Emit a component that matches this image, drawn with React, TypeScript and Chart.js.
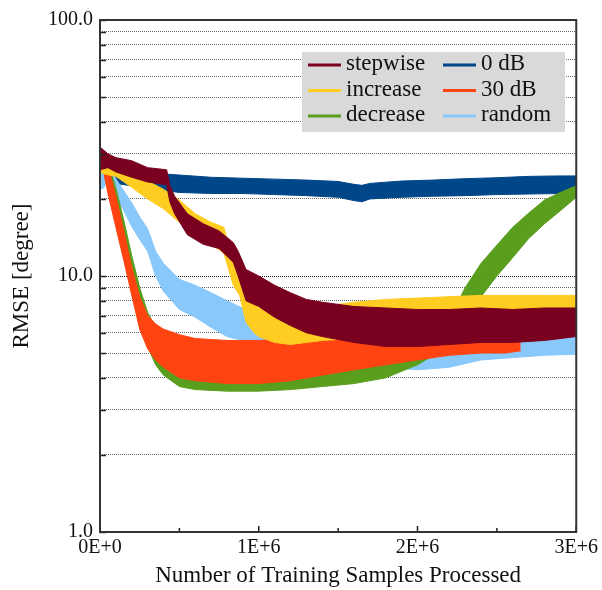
import React, { useEffect, useRef } from 'react';
import { Chart, registerables } from 'chart.js';

Chart.register(...registerables);

// x values are in millions of training samples
const X_TICKS = [0, 1, 2, 3];
const X_TICK_LABELS = ['0E+0', '1E+6', '2E+6', '3E+6'];
const X_MINOR_TICKS = [0.5, 1.5, 2.5];
const Y_TICKS = [1, 2, 3, 4, 5, 6, 7, 8, 9, 10, 20, 30, 40, 50, 60, 70, 80, 90, 100];
const Y_LABELED = [1, 10, 100];

const STEPWISE_X = [0, 0.05, 0.1, 0.2, 0.3, 0.42, 0.44, 0.47, 0.55, 0.65, 0.75, 0.84, 0.87, 0.92, 1.0, 1.1, 1.2, 1.3, 1.4, 1.6, 1.8, 2.0, 2.2, 2.4, 2.6, 2.8, 3.0];
const STEPWISE_HI = [31.9, 30, 29, 28.2, 26.5, 26, 22.5, 20.5, 17.5, 16, 15, 13.5, 12.5, 10.6, 10, 9.2, 8.6, 8.1, 7.9, 7.6, 7.5, 7.4, 7.4, 7.5, 7.4, 7.5, 7.5];
const STEPWISE_LO = [26, 26.5, 25.5, 24.3, 23.3, 22.7, 19.5, 17.5, 14.5, 13.3, 12.8, 11.3, 10, 8.0, 7.6, 6.9, 6.4, 6.0, 5.8, 5.5, 5.3, 5.3, 5.4, 5.5, 5.5, 5.6, 5.8];

const ZERO_DB_X = [0, 0.1, 0.2, 0.3, 0.42, 0.5, 0.7, 0.9, 1.1, 1.3, 1.5, 1.6, 1.65, 1.7, 1.9, 2.1, 2.3, 2.5, 2.7, 2.9, 3.0];
const ZERO_DB_HI = [29, 27, 26, 25.5, 25, 24.8, 24.3, 24.1, 23.9, 23.7, 23.4, 22.8, 22.6, 23, 23.5, 23.7, 24, 24.2, 24.5, 24.6, 24.6];
const ZERO_DB_LO = [25, 23, 22.5, 22, 21.5, 21.2, 21, 21, 20.8, 20.6, 20.3, 19.7, 19.5, 20, 20.3, 20.5, 20.6, 20.8, 20.9, 21, 21];

const INCREASE_X = [0, 0.03, 0.1, 0.2, 0.3, 0.4, 0.5, 0.6, 0.7, 0.78, 0.84, 0.88, 0.92, 0.97, 1.0, 1.1, 1.2, 1.3, 1.4, 1.6, 1.8, 2.0, 2.2, 2.4, 2.6, 2.8, 3.0];
const INCREASE_HI = [28, 27, 26.5, 25.3, 23.5, 21.8, 19.8, 17.5, 16.2, 15.5, 11.5, 10.5, 8.6, 7.8, 7.5, 7.4, 7.2, 7.4, 7.6, 7.9, 8.1, 8.2, 8.3, 8.4, 8.4, 8.4, 8.4];
const INCREASE_LO = [25.5, 25, 24.5, 22.2, 20, 18.3, 16.2, 14.5, 13.3, 12.3, 9.2, 8.4, 6.6, 6.0, 5.8, 5.5, 5.4, 5.5, 5.6, 5.7, 5.8, 5.9, 6.0, 6.1, 6.1, 6.2, 6.2];

const DECREASE_X = [0, 0.02, 0.05, 0.1, 0.15, 0.2, 0.25, 0.3, 0.35, 0.4, 0.5, 0.6, 0.8, 1.0, 1.2, 1.4, 1.6, 1.8, 2.0, 2.1, 2.2, 2.25, 2.3, 2.4, 2.5, 2.6, 2.7, 2.8, 2.9, 3.0];
const DECREASE_HI = [29, 29, 28, 22, 16.5, 12, 9, 7.2, 6.3, 5.8, 5.4, 5.2, 5.1, 5.1, 5.1, 5.2, 5.2, 5.3, 5.6, 6.0, 6.8, 7.8, 9.0, 11.2, 13.2, 15.5, 17.6, 19.8, 21.2, 22.5];
const DECREASE_LO = [26, 26, 23, 17, 12.5, 9.2, 6.8, 5.3, 4.5, 4.1, 3.7, 3.6, 3.55, 3.55, 3.6, 3.7, 3.8, 4.0, 4.5, 4.9, 5.4, 5.9, 6.6, 8.3, 10.0, 11.8, 14.0, 16.0, 18.0, 20.3];

const THIRTY_DB_X = [0, 0.02, 0.05, 0.1, 0.15, 0.2, 0.25, 0.3, 0.35, 0.4, 0.5, 0.6, 0.8, 1.0, 1.2, 1.4, 1.6, 1.8, 2.0, 2.2, 2.4, 2.55, 2.65];
const THIRTY_DB_HI = [31, 30, 27, 20.5, 15, 10.8, 8.3, 7.0, 6.5, 6.2, 5.9, 5.7, 5.6, 5.6, 5.7, 5.8, 5.8, 5.9, 6.0, 6.0, 6.0, 5.9, 5.8];
const THIRTY_DB_LO = [27, 26, 21, 15.5, 11.5, 8.4, 6.2, 5.2, 4.7, 4.4, 4.0, 3.9, 3.8, 3.8, 3.9, 4.1, 4.3, 4.5, 4.7, 4.9, 5.0, 5.0, 5.1];

const RANDOM_X = [0, 0.02, 0.06, 0.1, 0.15, 0.2, 0.25, 0.3, 0.35, 0.4, 0.5, 0.6, 0.7, 0.8, 1.0, 1.2, 1.4, 1.6, 1.8, 2.0, 2.2, 2.4, 2.6, 2.8, 3.0];
const RANDOM_HI = [27, 27, 26.5, 24, 21.5, 19.3, 17, 15.3, 12.5, 11.2, 9.7, 9.2, 8.6, 8.0, 7.0, 6.3, 6.0, 5.7, 5.3, 5.2, 5.4, 5.6, 5.7, 5.8, 5.9];
const RANDOM_LO = [22, 22, 24.4, 20.5, 18, 15.6, 13.9, 12.5, 10, 8.7, 7.4, 6.9, 6.3, 5.8, 5.4, 5.2, 5.0, 4.7, 4.4, 4.3, 4.4, 4.7, 4.8, 4.9, 4.95];

// legend column 1: first three, column 2: last three; order = draw layer (lower = on top)
const SERIES = [
  { label: 'stepwise', color: '#7a0020', xs: STEPWISE_X, hi: STEPWISE_HI, lo: STEPWISE_LO, order: 1 },
  { label: 'increase', color: '#ffcc22', xs: INCREASE_X, hi: INCREASE_HI, lo: INCREASE_LO, order: 2 },
  { label: 'decrease', color: '#5a9e1e', xs: DECREASE_X, hi: DECREASE_HI, lo: DECREASE_LO, order: 4 },
  { label: '0 dB', color: '#00478a', xs: ZERO_DB_X, hi: ZERO_DB_HI, lo: ZERO_DB_LO, order: 6 },
  { label: '30 dB', color: '#ff4411', xs: THIRTY_DB_X, hi: THIRTY_DB_HI, lo: THIRTY_DB_LO, order: 3 },
  { label: 'random', color: '#88c8fa', xs: RANDOM_X, hi: RANDOM_HI, lo: RANDOM_LO, order: 5 },
];

const SERIF = "'Liberation Serif', 'DejaVu Serif', serif";

const framePlugin = {
  id: 'frameAndLegend',
  afterDraw(chart: any) {
    const { ctx, chartArea } = chart;
    const { left, right, top, bottom } = chartArea;
    const xs = chart.scales.x;
    const ys = chart.scales.y;
    ctx.save();
    // inward tick marks on y axis
    ctx.strokeStyle = '#222';
    ctx.lineWidth = 1.5;
    Y_TICKS.forEach((v) => {
      const y = Math.round(ys.getPixelForValue(v)) + 0.5;
      ctx.beginPath();
      ctx.moveTo(left, y);
      ctx.lineTo(left + 6, y);
      ctx.stroke();
    });
    // inward tick marks on x axis
    X_TICKS.forEach((v) => {
      const x = xs.getPixelForValue(v);
      ctx.beginPath();
      ctx.moveTo(x, bottom);
      ctx.lineTo(x, bottom - 6);
      ctx.stroke();
    });
    X_MINOR_TICKS.forEach((v) => {
      const x = xs.getPixelForValue(v);
      ctx.beginPath();
      ctx.moveTo(x, bottom);
      ctx.lineTo(x, bottom - 4);
      ctx.stroke();
    });
    // frame
    ctx.strokeStyle = '#333';
    ctx.lineWidth = 2;
    ctx.strokeRect(left, top, right - left, bottom - top);

    // legend
    const bx = 302, by = 52, bw = 263, bh = 80;
    ctx.fillStyle = '#d9d9d9';
    ctx.fillRect(bx, by, bw, bh);
    ctx.font = `23px ${SERIF}`;
    ctx.textBaseline = 'middle';
    ctx.textAlign = 'left';
    const colX = [308, 443];
    const rowY = [65, 90.5, 116];
    SERIES.forEach((s, i) => {
      const col = Math.floor(i / 3);
      const row = i % 3;
      const x0 = colX[col];
      const y0 = rowY[row];
      ctx.strokeStyle = s.color;
      ctx.lineWidth = 3;
      ctx.beginPath();
      ctx.moveTo(x0, y0);
      ctx.lineTo(x0 + 33, y0);
      ctx.stroke();
      ctx.fillStyle = '#111';
      ctx.fillText(s.label, x0 + 38, y0 - 1);
    });
    ctx.restore();
  },
};

export default function App() {
  const ref = useRef<HTMLCanvasElement | null>(null);
  useEffect(() => {
    document.body.style.margin = '0';
    const datasets: any[] = [];
    SERIES.forEach((s) => {
      datasets.push({
        label: s.label,
        data: s.xs.map((x, i) => ({ x, y: s.hi[i] })),
        borderColor: s.color,
        backgroundColor: s.color,
        borderWidth: 1,
        pointRadius: 0,
        fill: '+1',
        order: s.order,
      });
      datasets.push({
        label: s.label + '_lo',
        data: s.xs.map((x, i) => ({ x, y: s.lo[i] })),
        borderColor: s.color,
        backgroundColor: s.color,
        borderWidth: 1,
        pointRadius: 0,
        fill: false,
        order: s.order,
      });
    });
    const chart = new Chart(ref.current as HTMLCanvasElement, {
      type: 'line',
      data: { datasets },
      plugins: [framePlugin],
      options: {
        responsive: false,
        animation: false,
        layout: { padding: { left: 0, right: 24, top: 20, bottom: 0 } },
        plugins: { legend: { display: false }, tooltip: { enabled: false } },
        elements: { line: { tension: 0 } },
        scales: {
          x: {
            type: 'linear',
            min: 0,
            max: 3,
            afterBuildTicks: (scale: any) => {
              scale.ticks = X_TICKS.map((v) => ({ value: v }));
            },
            afterFit: (scale: any) => {
              scale.height = 58;
            },
            ticks: {
              autoSkip: false,
              maxRotation: 0,
              padding: 4,
              color: '#111',
              font: { family: SERIF, size: 20 },
              callback: (v: any, i: number) => X_TICK_LABELS[i],
            },
            grid: { display: false, drawTicks: false },
            border: { display: false },
            title: {
              display: true,
              text: 'Number of Training Samples Processed',
              color: '#111',
              font: { family: SERIF, size: 23 },
              padding: { top: 0, bottom: 0 },
            },
          },
          y: {
            type: 'logarithmic',
            min: 1,
            max: 100,
            afterBuildTicks: (scale: any) => {
              scale.ticks = Y_TICKS.map((v) => ({ value: v }));
            },
            afterFit: (scale: any) => {
              scale.width = 100;
            },
            ticks: {
              autoSkip: false,
              padding: 7,
              color: '#111',
              font: { family: SERIF, size: 20 },
              callback: (v: any) => (Y_LABELED.includes(Number(v)) ? Number(v).toFixed(1) : ''),
            },
            grid: {
              drawTicks: false,
              lineWidth: 1,
              color: (c: any) => (c.tick && c.tick.value === 10 ? '#111' : '#666'),
            },
            border: { display: false, dash: [1, 1] },
            title: {
              display: true,
              text: 'RMSE [degree]',
              color: '#111',
              font: { family: SERIF, size: 23 },
              padding: { top: 8, bottom: 0 },
            },
          },
        },
      },
    });
    return () => chart.destroy();
  }, []);
  return (
    <div style={{ position: 'absolute', left: 0, top: 0, width: 602, height: 590 }}>
      <canvas ref={ref} width={602} height={590} />
    </div>
  );
}
